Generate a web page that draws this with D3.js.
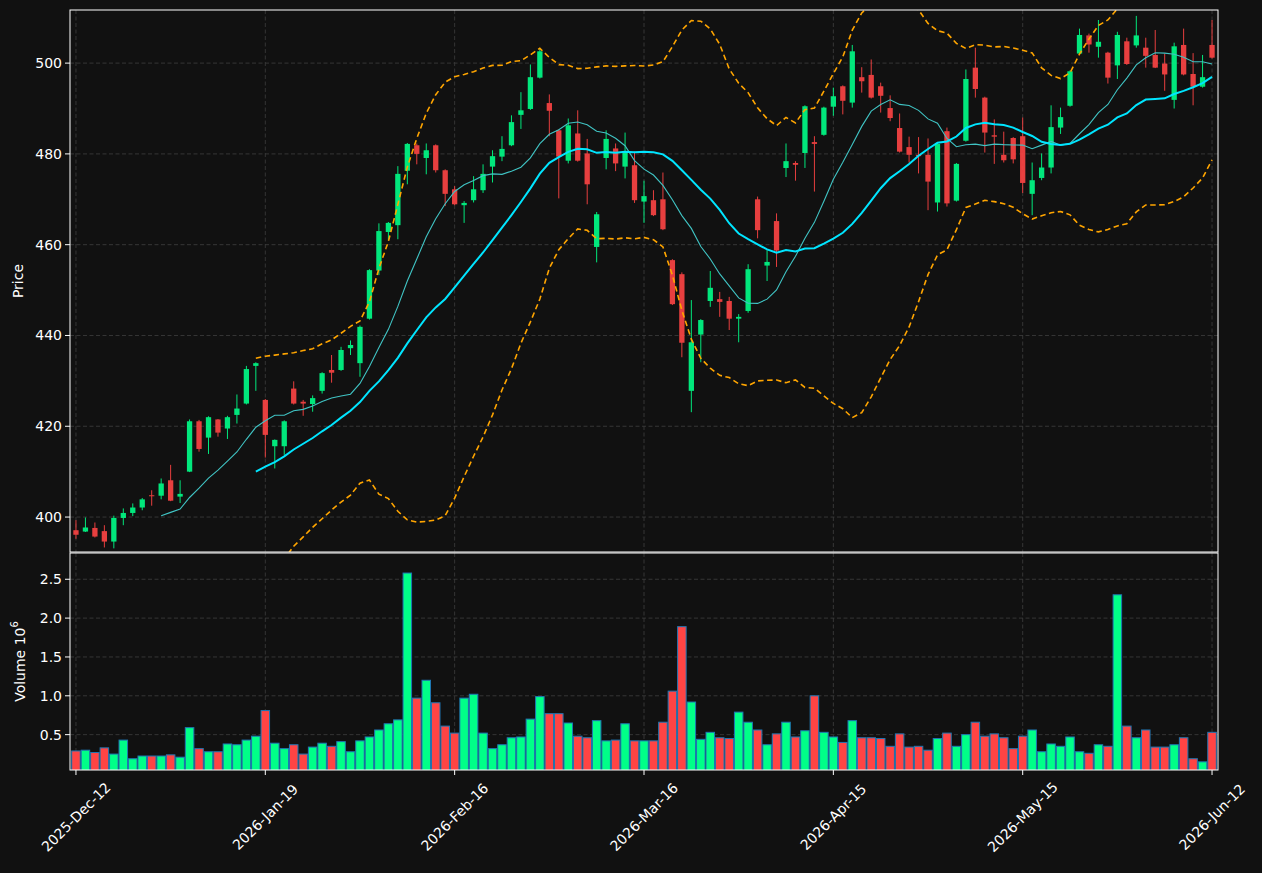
<!DOCTYPE html>
<html>
<head>
<meta charset="utf-8">
<script src="https://cdn.jsdelivr.net/npm/d3@7"></script>
<style>
  body { margin: 0; background: #111111; }
  svg { display: block; font-family: "DejaVu Sans", sans-serif; }
</style>
</head>
<body>
<div class="chart"></div>
<script>
// daily OHLC (index 0 = 2025-Dec-12)
const opens = [397.1,396.8,397.6,396.9,394.6,399.8,400.9,402.1,404.8,404.7,
  408.1,404.5,410.0,421.1,417.5,421.5,419.5,422.5,425.0,433.3,
  425.8,415.6,415.6,428.3,425.4,424.9,427.8,432.4,432.4,437.2,
  433.9,443.7,454.3,462.8,464.3,476.3,481.9,479.1,481.9,476.4,
  472.2,468.7,469.8,472.0,477.2,479.4,481.9,488.6,489.9,496.8,
  491.2,485.2,478.5,484.5,480.1,459.5,479.1,481.2,477.2,477.5,
  469.5,469.8,470.0,456.6,453.5,427.8,440.2,447.6,448.0,447.6,
  443.7,445.4,470.0,455.4,465.2,476.9,478.0,480.2,482.6,484.2,
  490.4,494.9,491.3,496.9,497.4,494.9,490.1,485.7,481.5,479.8,
  479.8,469.3,485.0,469.7,482.9,499.0,492.4,484.1,479.8,483.5,
  483.9,471.2,474.7,477.0,485.8,490.6,502.1,506.1,503.6,502.3,
  499.5,504.8,503.9,503.4,501.8,499.9,491.9,504.0,497.6,494.8,
  504.0];
const highs = [399.3,399.9,398.8,398.2,400.3,401.9,403.0,404.2,405.9,408.5,
  411.5,408.1,421.5,421.4,422.2,421.6,422.3,427.0,433.3,434.1,
  426.0,417.1,421.3,429.9,425.8,426.8,431.9,435.7,437.5,438.9,
  442.2,454.6,464.7,465.0,477.3,482.4,482.3,482.3,482.1,476.6,
  472.9,469.6,475.1,477.7,480.8,483.9,488.5,493.6,499.7,503.1,
  493.1,485.4,487.8,489.6,483.3,467.2,485.2,482.3,484.7,480.5,
  474.1,472.0,475.9,456.8,453.9,447.8,443.6,454.2,449.6,448.5,
  444.7,455.7,470.6,458.8,466.9,482.3,478.4,490.7,483.9,490.4,
  494.6,495.1,504.0,499.1,500.8,495.7,492.9,488.9,483.8,483.7,
  483.4,482.4,485.8,478.0,498.6,503.4,492.6,487.6,484.9,483.7,
  488.0,478.1,480.1,490.7,490.2,498.4,507.6,506.5,509.5,502.5,
  506.9,505.6,510.4,505.6,507.3,502.1,504.5,507.6,502.2,501.8,
  509.5];
const lows = [395.2,396.7,395.5,393.3,393.1,398.2,400.2,401.5,402.5,403.9,
  403.5,403.1,409.9,414.4,413.9,417.7,417.2,420.6,424.8,427.8,
  413.1,410.7,413.7,424.8,422.3,423.2,427.2,429.6,432.2,435.7,
  430.9,443.5,453.3,461.0,461.2,473.3,477.7,475.5,475.9,468.5,
  468.7,464.8,469.3,471.4,473.7,478.4,481.7,485.5,489.7,496.6,
  483.9,470.2,477.9,478.3,468.9,456.1,476.6,476.2,474.6,469.2,
  464.8,466.3,463.2,446.7,435.2,423.1,434.1,446.3,444.1,441.2,
  438.5,445.0,461.4,452.0,455.1,474.9,474.1,476.9,471.7,484.0,
  488.4,488.7,490.2,493.5,492.2,489.1,487.2,480.3,478.1,475.7,
  467.6,467.3,468.4,469.5,482.7,492.4,480.3,477.8,478.1,477.9,
  471.4,466.5,474.2,475.7,484.4,490.4,501.9,502.3,501.2,495.5,
  496.5,499.6,503.4,499.0,498.9,493.9,490.0,497.3,490.7,494.6,
  501.0];
const closes = [396.1,397.7,395.7,394.6,399.8,400.9,402.1,403.9,404.6,407.4,
  403.6,405.1,421.1,415.0,422.0,418.6,422.0,423.9,432.6,433.9,
  418.1,417.0,421.1,425.0,425.0,426.2,431.7,431.8,436.8,437.9,
  441.9,454.4,463.0,464.8,475.6,482.2,480.0,480.8,476.4,471.2,
  468.9,469.2,472.2,475.6,479.5,481.1,487.0,489.6,496.9,502.6,
  489.5,479.4,486.3,478.5,473.3,466.7,483.3,477.9,480.5,469.8,
  470.7,466.5,463.4,446.9,438.4,438.5,443.4,450.5,447.4,443.7,
  444.1,454.6,463.2,456.2,458.7,478.4,477.6,490.5,482.2,490.2,
  492.7,491.7,502.6,496.0,492.4,492.8,487.9,480.5,479.8,479.5,
  473.9,482.2,469.1,477.8,496.5,494.3,484.7,483.8,478.6,478.8,
  473.6,474.2,477.0,485.9,488.1,498.2,506.2,504.1,504.7,496.8,
  506.2,499.8,506.1,501.6,499.0,497.5,503.7,497.5,494.8,496.9,
  501.2];
// volume in millions
const volumes = [0.29,0.30,0.27,0.33,0.25,0.43,0.19,0.225,0.225,0.225,
  0.24,0.21,0.59,0.32,0.28,0.28,0.38,0.37,0.43,0.48,
  0.81,0.39,0.32,0.37,0.25,0.34,0.39,0.35,0.41,0.28,
  0.42,0.47,0.56,0.64,0.69,2.58,0.97,1.20,0.91,0.61,
  0.52,0.97,1.02,0.52,0.32,0.37,0.46,0.47,0.70,0.99,
  0.77,0.77,0.65,0.48,0.46,0.68,0.42,0.43,0.64,0.42,
  0.42,0.42,0.66,1.06,1.89,0.92,0.44,0.53,0.46,0.45,
  0.79,0.66,0.56,0.37,0.51,0.66,0.47,0.55,1.00,0.53,
  0.47,0.40,0.68,0.46,0.46,0.45,0.35,0.51,0.34,0.35,
  0.30,0.45,0.52,0.35,0.50,0.66,0.48,0.51,0.46,0.32,
  0.48,0.56,0.28,0.38,0.35,0.47,0.28,0.26,0.37,0.35,
  2.30,0.61,0.46,0.56,0.34,0.34,0.37,0.46,0.19,0.15,
  0.53];

const xTickIdx = [0, 20, 40, 60, 80, 100, 120];
const xTickLabels = ["2025-Dec-12","2026-Jan-19","2026-Feb-16","2026-Mar-16","2026-Apr-15","2026-May-15","2026-Jun-12"];
const priceTicks = [400, 420, 440, 460, 480, 500];
const volTicks = [0.5, 1.0, 1.5, 2.0, 2.5];

const W = 1262, H = 873;
const left = 70, right = 1218;
const pTop = 10, pBot = 552, vTop = 553, vBot = 770;

const upCol = "#00ff88", downCol = "#ff4444";
const fg = "#ffffff";
const gridCol = "#3a3a3a";

const n = closes.length;
const x = d3.scaleLinear().domain([-0.63, n - 1 + 0.63]).range([left, right]);
const y = d3.scaleLinear().domain([392.3, 511.7]).range([pBot, pTop]);
const yv = d3.scaleLinear().domain([d3.min(volumes) * 0.3, d3.max(volumes) * 1.1]).range([vBot, vTop]);

const svg = d3.select(".chart").append("svg")
    .attr("width", W).attr("height", H);

svg.append("rect").attr("width", W).attr("height", H).attr("fill", "#111111");

const defs = svg.append("defs");
defs.append("clipPath").attr("id", "clipP").append("rect")
    .attr("x", left).attr("y", pTop).attr("width", right - left).attr("height", pBot - pTop);
defs.append("clipPath").attr("id", "clipV").append("rect")
    .attr("x", left).attr("y", vTop).attr("width", right - left).attr("height", vBot - vTop);

const append_line = function(g, x1, y1, x2, y2, stroke, sw, dash) {
    var ret = g.append("line").attr("x1", x1).attr("y1", y1).attr("x2", x2).attr("y2", y2)
        .attr("stroke", stroke).attr("stroke-width", sw);
    if (dash) ret = ret.attr("stroke-dasharray", dash);
    return ret;
};

// grid
const grid = svg.append("g");
xTickIdx.forEach(i => {
    append_line(grid, x(i), pTop, x(i), pBot, gridCol, 0.9, "4,2.5");
    append_line(grid, x(i), vTop, x(i), vBot, gridCol, 0.9, "4,2.5");
});
priceTicks.forEach(t => append_line(grid, left, y(t), right, y(t), gridCol, 0.9, "4,2.5"));
volTicks.forEach(t => append_line(grid, left, yv(t), right, yv(t), gridCol, 0.9, "4,2.5"));

// candles
const pg = svg.append("g").attr("clip-path", "url(#clipP)");
const bw = x(0.56) - x(0);
const idx = d3.range(n);
const candle = pg.selectAll("g.c").data(idx).enter().append("g").attr("class", "c")
    .attr("opacity", 0.9);
candle.append("line")
    .attr("x1", i => x(i)).attr("x2", i => x(i))
    .attr("y1", i => y(highs[i])).attr("y2", i => y(lows[i]))
    .attr("stroke", i => closes[i] >= opens[i] ? upCol : downCol)
    .attr("stroke-width", 1);
candle.append("rect")
    .attr("x", i => x(i) - bw / 2).attr("width", bw)
    .attr("y", i => y(Math.max(opens[i], closes[i])))
    .attr("height", i => Math.max(1, Math.abs(y(opens[i]) - y(closes[i]))))
    .attr("fill", i => closes[i] >= opens[i] ? upCol : downCol);

// moving averages and bollinger bands from closes
function rolling(n_, fn) {
    var out = [];
    for (var i = n_ - 1; i < n; i++) out.push({ i: i, v: fn(closes.slice(i - n_ + 1, i + 1)) });
    return out;
}
const ma10 = rolling(10, d3.mean);
const ma20 = rolling(20, d3.mean);
const bbUp = rolling(20, a => d3.mean(a) + 2 * d3.deviation(a));
const bbLo = rolling(20, a => d3.mean(a) - 2 * d3.deviation(a));

const line = d3.line().x(d => x(d.i)).y(d => y(d.v));
pg.append("path").datum(ma10).attr("d", line).attr("fill", "none")
    .attr("stroke", "#40c4c4").attr("stroke-width", 1.1);
pg.append("path").datum(ma20).attr("d", line).attr("fill", "none")
    .attr("stroke", "#00e5ff").attr("stroke-width", 2);
[bbUp, bbLo].forEach(b => {
    pg.append("path").datum(b).attr("d", line).attr("fill", "none")
        .attr("stroke", "#ffa500").attr("stroke-width", 1.6).attr("stroke-dasharray", "5.5,3.5");
});

// volume bars
const vg = svg.append("g").attr("clip-path", "url(#clipV)");
const vw = x(0.9) - x(0);
vg.selectAll("rect.v").data(idx).enter().append("rect").attr("class", "v")
    .attr("x", i => x(i) - vw / 2).attr("width", vw)
    .attr("y", i => yv(volumes[i]))
    .attr("height", i => yv.range()[0] - yv(volumes[i]) + 2)
    .attr("fill", i => closes[i] >= opens[i] ? upCol : downCol)
    .attr("stroke", "#1f77b4").attr("stroke-width", 1);

// frames
[[pTop, pBot], [vTop, vBot]].forEach(p => {
    svg.append("rect").attr("x", left).attr("y", p[0]).attr("width", right - left)
        .attr("height", p[1] - p[0]).attr("fill", "none").attr("stroke", fg).attr("stroke-width", 1);
});

// y axes
const ax = svg.append("g").attr("fill", fg).attr("font-size", 14);
priceTicks.forEach(t => {
    append_line(ax, left - 5, y(t), left, y(t), fg, 1);
    ax.append("text").attr("x", left - 8).attr("y", y(t)).attr("dy", "0.35em")
        .attr("text-anchor", "end").text(t);
});
volTicks.forEach(t => {
    append_line(ax, left - 5, yv(t), left, yv(t), fg, 1);
    ax.append("text").attr("x", left - 8).attr("y", yv(t)).attr("dy", "0.35em")
        .attr("text-anchor", "end").text(t.toFixed(1));
});
ax.append("text").attr("transform", `translate(23,${(pTop + pBot) / 2}) rotate(-90)`)
    .attr("text-anchor", "middle").text("Price");
var vl = ax.append("text").attr("transform", `translate(25,${(vTop + vBot) / 2}) rotate(-90)`)
    .attr("text-anchor", "middle");
vl.append("tspan").text("Volume  10");
vl.append("tspan").attr("font-size", 10).attr("dy", -7).text("6");

// x axis, labels centred on the tick and turned 45 degrees
xTickIdx.forEach((i, k) => {
    append_line(ax, x(i), vBot, x(i), vBot + 5, fg, 1);
    ax.append("text").attr("transform", `translate(${x(i)},${vBot + 47}) rotate(-45)`)
        .attr("text-anchor", "middle").attr("dy", "0.35em").text(xTickLabels[k]);
});
</script>
</body>
</html>
